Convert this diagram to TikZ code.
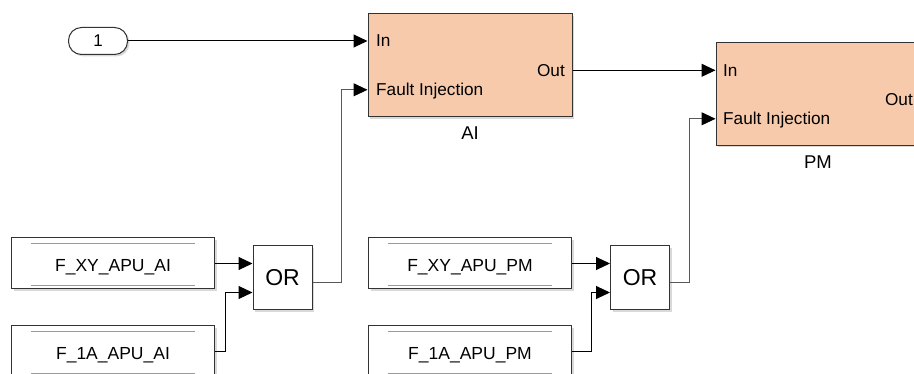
\documentclass[tikz,border=0pt]{standalone}
\usepackage{fontspec}
\setmainfont{Liberation Sans}
\usetikzlibrary{arrows.meta,positioning,shadows}
\definecolor{subsysfill}{RGB}{247,202,172}

\begin{document}
\begin{tikzpicture}[
        x=1pt, y=-1pt,
        shade/.style={drop shadow={shadow xshift=2pt, shadow yshift=-2pt, opacity=0.3}},
        subsys/.style={draw=black!80, line width=1pt, fill=subsysfill, minimum width=204pt, minimum height=103pt, shade},
        port/.style={inner sep=0pt, text height=12.4pt, text depth=0pt, font=\fontsize{17.2}{19}\selectfont},
        blockname/.style={inner sep=0pt, font=\fontsize{18.5}{20}\selectfont},
        dsread/.style={draw=black!80, line width=1pt, fill=white, minimum width=203pt, minimum height=51pt, text height=16pt, text depth=0pt, font=\fontsize{17.5}{20}\selectfont, shade},
        orgate/.style={draw=black!80, line width=1pt, fill=white, minimum width=59pt, minimum height=64pt, font=\fontsize{23}{25}\selectfont, shade},
        inport/.style={draw=black!80, line width=1pt, fill=white, rounded corners=13pt, minimum width=59pt, minimum height=27pt, font=\fontsize{17}{19}\selectfont, shade},
        arrow/.style={-{Triangle[length=14pt, width=13pt, black]}, line width=1pt},
        fault/.style={arrow, draw=black!65}
    ]
        \useasboundingbox (0,0) rectangle (914,374);

        % Inport
        \node[inport] (in1) at (98,41) {1};

        % Subsystem AI
        \node[subsys] (AI) at (470,65.5) {};
        \node[port, anchor=base west] (ai-in) at (376,47) {In};
        \node[port, anchor=base west] (ai-fi) at (376,96) {Fault Injection};
        \node[port, anchor=base east] (ai-out) at (565,76.5) {Out};
        \node[blockname, below=9.5pt of AI] (ai-name) {AI};

        % Subsystem PM
        \node[subsys] (PM) at (818,94) {};
        \node[port, anchor=base west] (pm-in) at (723,76.5) {In};
        \node[port, anchor=base west] (pm-fi) at (723,125) {Fault Injection};
        \node[port, anchor=base east] (pm-out) at (913,105.5) {Out};
        \node[blockname, below=9.5pt of PM] (pm-name) {PM};

        % Data store reads
        \node[dsread] (dsA) at (113,263.5) {F\_XY\_APU\_AI};
        \node[dsread] (dsB) at (113,351.5) {F\_1A\_APU\_AI};
        \node[dsread] (dsC) at (470,263.5) {F\_XY\_APU\_PM};
        \node[dsread] (dsD) at (470,351.5) {F\_1A\_APU\_PM};
        \foreach \n in {dsA,dsB,dsC,dsD} {
            \draw[gray!80, line width=1.3pt] ([shift={(20,6)}]\n.north west) -- ([shift={(-20,6)}]\n.north east);
            \draw[gray!80, line width=1.3pt] ([shift={(20,-4)}]\n.south west) -- ([shift={(-20,-4)}]\n.south east);
        }

        % OR gates
        \node[orgate] (or1) at (282.5,278) {OR};
        \node[orgate] (or2) at (640,278) {OR};
        \coordinate (or1-out) at ([yshift=-4.5pt]or1.east);
        \coordinate (or2-out) at ([yshift=-4.5pt]or2.east);
        \coordinate (or1-in2) at ([yshift=-14.5pt]or1.west);
        \coordinate (or2-in2) at ([yshift=-14.5pt]or2.west);

        % Connections
        \draw[arrow] (in1) -- (in1 -| AI.west);
        \draw[arrow] (AI.east |- ai-out) -- (ai-out -| PM.west);
        \draw[arrow] (dsA) -- (dsA -| or1.west);
        \draw[arrow] (dsB.east) -- ++(10,0) |- (or1-in2);
        \draw[arrow] (dsC) -- (dsC -| or2.west);
        \draw[arrow] (dsD.east) -- ++(19,0) |- (or2-in2);
        \draw[fault] (or1-out) -- ++(29,0) |- (ai-fi -| AI.west);
        \draw[fault] (or2-out) -- ++(19,0) |- (pm-fi -| PM.west);

    \end{tikzpicture}
\end{document}
